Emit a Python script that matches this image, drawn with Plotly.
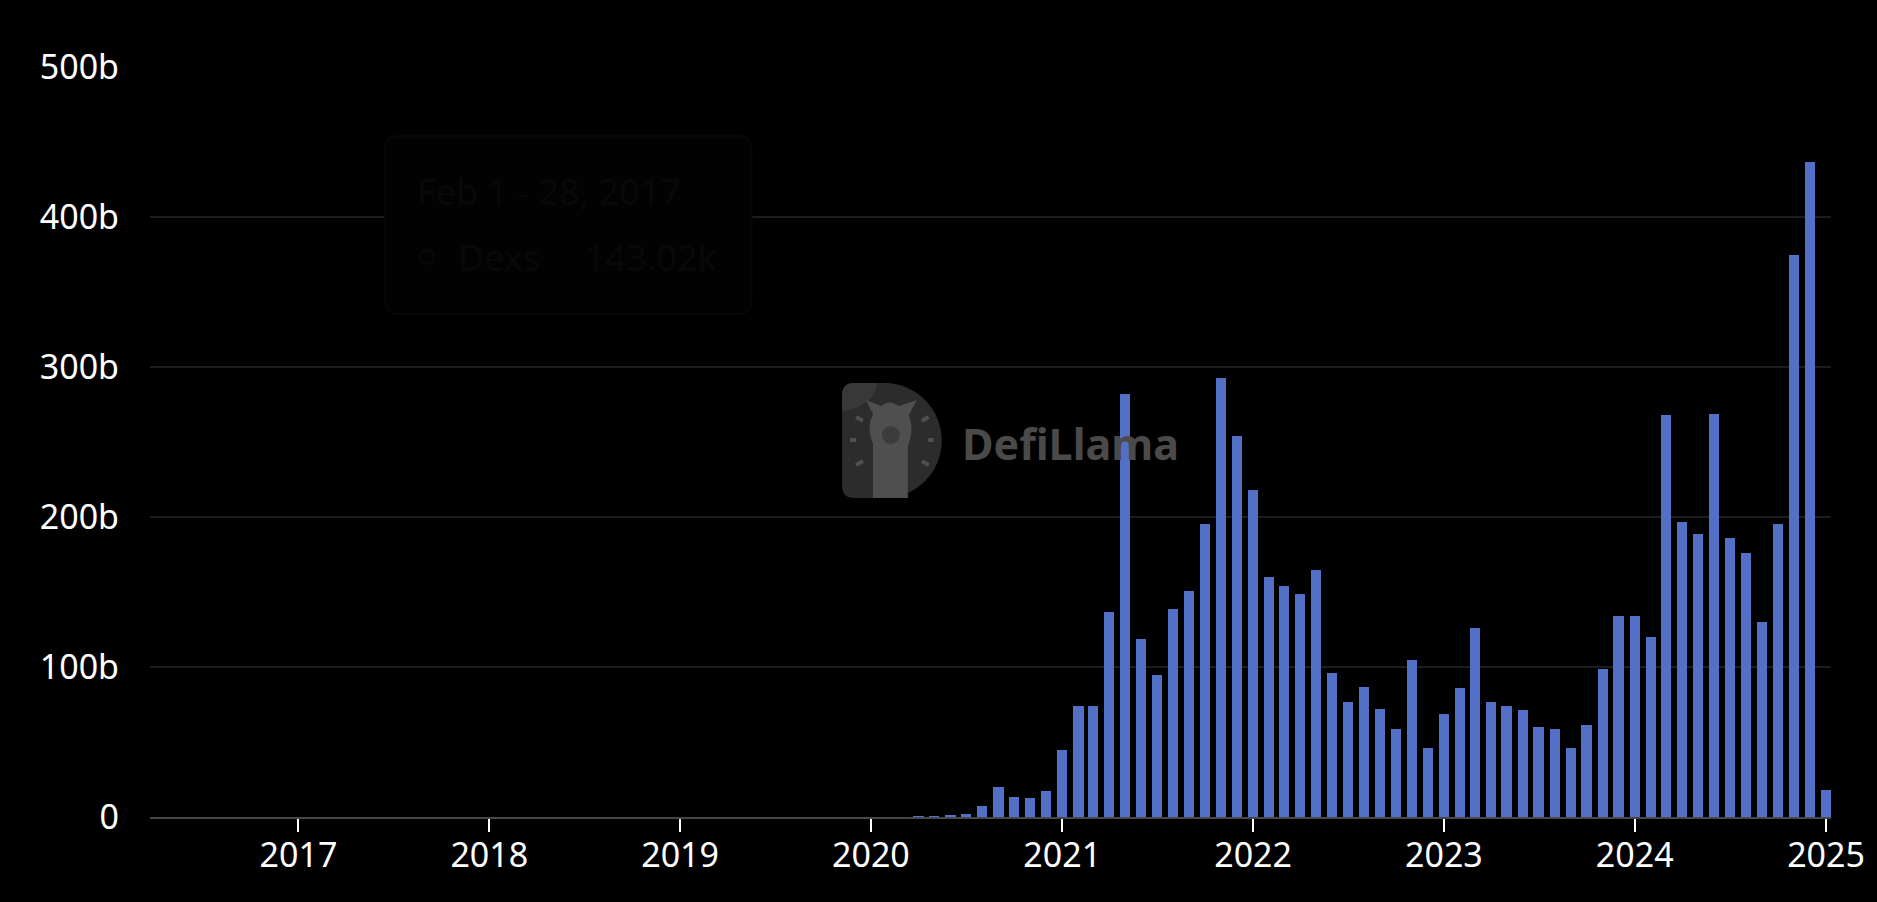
import plotly.graph_objects as go

# ---- data (values in billions USD, monthly DEX volume) ----
months = [
    "2017-02-01",
    "2020-04-01", "2020-05-01", "2020-06-01", "2020-07-01", "2020-08-01", "2020-09-01",
    "2020-10-01", "2020-11-01", "2020-12-01",
    "2021-01-01", "2021-02-01", "2021-03-01", "2021-04-01", "2021-05-01", "2021-06-01",
    "2021-07-01", "2021-08-01", "2021-09-01", "2021-10-01", "2021-11-01", "2021-12-01",
    "2022-01-01", "2022-02-01", "2022-03-01", "2022-04-01", "2022-05-01", "2022-06-01",
    "2022-07-01", "2022-08-01", "2022-09-01", "2022-10-01", "2022-11-01", "2022-12-01",
    "2023-01-01", "2023-02-01", "2023-03-01", "2023-04-01", "2023-05-01", "2023-06-01",
    "2023-07-01", "2023-08-01", "2023-09-01", "2023-10-01", "2023-11-01", "2023-12-01",
    "2024-01-01", "2024-02-01", "2024-03-01", "2024-04-01", "2024-05-01", "2024-06-01",
    "2024-07-01", "2024-08-01", "2024-09-01", "2024-10-01", "2024-11-01", "2024-12-01",
    "2025-01-01",
]
volume_b = [
    0.00014302,
    0.2, 0.4, 1.1, 2.2, 7.3, 20.0,
    13.5, 13.0, 17.3,
    45.0, 74.0, 74.0, 137.0, 282.0, 119.0,
    95.0, 139.0, 151.0, 195.5, 293.0, 254.0,
    218.0, 160.0, 154.0, 149.0, 165.0, 96.0,
    77.0, 86.7, 71.8, 59.0, 104.5, 45.8,
    68.5, 86.0, 126.0, 76.5, 74.2, 71.3,
    60.0, 58.5, 46.2, 61.5, 98.7, 134.0,
    134.0, 120.0, 267.8, 197.0, 189.0, 268.7,
    185.8, 176.0, 130.0, 195.3, 375.0, 437.0,
    18.0,
]
series_name = "Dexs"
x_tick_vals = ["2017-01-01", "2018-01-01", "2019-01-01", "2020-01-01", "2021-01-01",
               "2022-01-01", "2023-01-01", "2024-01-01", "2025-01-01"]
x_tick_text = ["2017", "2018", "2019", "2020", "2021", "2022", "2023", "2024", "2025"]
y_tick_vals = [0, 100, 200, 300, 400, 500]
y_tick_text = ["0", "100b", "200b", "300b", "400b", "500b"]
tooltip_date = "Feb 1 - 28, 2017"
tooltip_value = "143.02k"

# ---- layout geometry ----
W, H = 1877, 902
L, R, T, B = 150, 39, 67, 85
PW, PH = W - L - R, H - T - B


def px(x):
    return (x - L) / PW


def py(y):
    return (H - B - y) / PH


FONT = "Noto Sans, Open Sans, sans-serif"
BAR_COLOR = "#5470c6"
DAY_MS = 86400000

fig = go.Figure()
fig.add_trace(go.Bar(
    x=months, y=volume_b, name=series_name,
    marker=dict(color=BAR_COLOR, line=dict(width=0)),
    width=[19.6 * DAY_MS] * len(months),
    hoverinfo="skip",
))

shapes = []

# --- DefiLlama watermark logo (D shape) ---
k = 0.5523
x0, y0, y1 = 845, 383, 498
cx, r = 887.5, 57.5
cy = (y0 + y1) / 2
rc = 12
d_path = (
    f"M {px(x0 + rc)},{py(y0)} L {px(cx)},{py(y0)} "
    f"C {px(cx + k * r)},{py(y0)} {px(cx + r)},{py(cy - k * r)} {px(cx + r)},{py(cy)} "
    f"C {px(cx + r)},{py(cy + k * r)} {px(cx + k * r)},{py(y1)} {px(cx)},{py(y1)} "
    f"L {px(x0 + rc)},{py(y1)} Q {px(x0)},{py(y1)} {px(x0)},{py(y1 - rc)} "
    f"L {px(x0)},{py(y0 + rc)} Q {px(x0)},{py(y0)} {px(x0 + rc)},{py(y0)} Z"
)
shapes.append(dict(type="path", path=d_path, xref="paper", yref="paper",
                   fillcolor="#2c2c2c", line=dict(width=0), layer="below"))
# lighter top-left quadrant of the logo
tl_path = (
    f"M {px(x0 + rc)},{py(y0)} L {px(880)},{py(y0)} "
    f"Q {px(878)},{py(405)} {px(x0)},{py(412)} "
    f"L {px(x0)},{py(y0 + rc)} Q {px(x0)},{py(y0)} {px(x0 + rc)},{py(y0)} Z"
)
shapes.append(dict(type="path", path=tl_path, xref="paper", yref="paper",
                   fillcolor="#383838", line=dict(width=0), layer="below"))
# llama: neck / body / head
llama_path = (
    f"M {px(876)},{py(498)} L {px(876)},{py(444)} "
    f"Q {px(869)},{py(428)} {px(876)},{py(414)} L {px(869)},{py(400)} L {px(884)},{py(406)} "
    f"Q {px(893)},{py(399)} {px(902)},{py(406)} L {px(920)},{py(400)} L {px(912)},{py(415)} "
    f"Q {px(918)},{py(430)} {px(911)},{py(446)} L {px(911)},{py(498)} Z"
)
shapes.append(dict(type="path", path=llama_path, xref="paper", yref="paper",
                   fillcolor="#4f4f4f", line=dict(width=0), layer="below"))
# face
shapes.append(dict(type="circle", xref="paper", yref="paper",
                   x0=px(885), x1=px(903), y0=py(444), y1=py(426),
                   fillcolor="#3c3c3c", line=dict(width=0), layer="below"))
# rays around llama
for (ax0, ay0, ax1, ay1) in [(859, 417, 866, 421), (853, 440, 859, 440), (859, 465, 866, 461),
                             (925, 421, 932, 417), (931, 440, 937, 440), (925, 461, 932, 465)]:
    shapes.append(dict(type="line", xref="paper", yref="paper",
                       x0=px(ax0), y0=py(ay0), x1=px(ax1), y1=py(ay1),
                       line=dict(color="#4f4f4f", width=4), layer="below"))

# --- ghost tooltip box (nearly invisible) ---
bx0, by0, bx1, by1, br = 386, 136, 754, 314, 14
box_path = (
    f"M {px(bx0 + br)},{py(by0)} L {px(bx1 - br)},{py(by0)} Q {px(bx1)},{py(by0)} {px(bx1)},{py(by0 + br)} "
    f"L {px(bx1)},{py(by1 - br)} Q {px(bx1)},{py(by1)} {px(bx1 - br)},{py(by1)} "
    f"L {px(bx0 + br)},{py(by1)} Q {px(bx0)},{py(by1)} {px(bx0)},{py(by1 - br)} "
    f"L {px(bx0)},{py(by0 + br)} Q {px(bx0)},{py(by0)} {px(bx0 + br)},{py(by0)} Z"
)
shapes.append(dict(type="path", path=box_path, xref="paper", yref="paper",
                   fillcolor="#020202", line=dict(color="#070707", width=2), layer="above"))
shapes.append(dict(type="circle", xref="paper", yref="paper",
                   x0=px(421), x1=px(435), y0=py(264), y1=py(250),
                   fillcolor="rgba(0,0,0,0)", line=dict(color="#090909", width=2), layer="above"))

annotations = [
    dict(text="DefiLlama", xref="paper", yref="paper", x=px(963), y=py(443),
         xanchor="left", yanchor="middle", showarrow=False,
         font=dict(family="Noto Sans, Open Sans, sans-serif", size=43, color="#4a4a4a",
                   weight="bold")),
    dict(text=tooltip_date, xref="paper", yref="paper", x=px(416), y=py(192),
         xanchor="left", yanchor="middle", showarrow=False,
         font=dict(family=FONT, size=36, color="#080808")),
    dict(text=series_name, xref="paper", yref="paper", x=px(457), y=py(257),
         xanchor="left", yanchor="middle", showarrow=False,
         font=dict(family=FONT, size=36, color="#080808")),
    dict(text=tooltip_value, xref="paper", yref="paper", x=px(721), y=py(257),
         xanchor="right", yanchor="middle", showarrow=False,
         font=dict(family=FONT, size=36, color="#080808")),
]

fig.update_layout(
    width=W, height=H,
    margin=dict(l=L, r=R, t=T, b=B, pad=0),
    paper_bgcolor="#000000", plot_bgcolor="#000000",
    showlegend=False,
    bargap=0,
    font=dict(family=FONT, color="#ffffff", size=34),
    shapes=shapes,
    annotations=annotations,
    xaxis=dict(
        type="date",
        range=["2016-03-23", "2025-01-10 12:00"],
        tickvals=x_tick_vals, ticktext=x_tick_text,
        showgrid=False, zeroline=False,
        showline=True, linecolor="#474747", linewidth=2,
        ticks="outside", ticklen=13, tickwidth=2, tickcolor="#ffffff",
        tickfont=dict(family=FONT, size=34, color="#ffffff"),
        ticklabelstandoff=-6,
        fixedrange=True,
    ),
    yaxis=dict(
        range=[0, 500],
        tickvals=y_tick_vals, ticktext=y_tick_text,
        showgrid=True, gridcolor="#1c1c1c", gridwidth=2,
        zeroline=False, showline=False, ticks="",
        tickfont=dict(family=FONT, size=34, color="#ffffff"),
        ticklabelstandoff=30,
        fixedrange=True,
    ),
)

fig.write_html(
    "out.html",
    config={"displayModeBar": False},
    post_script="document.body.style.margin='0';document.body.style.background='#000';"
                "document.documentElement.style.background='#000';"
                "document.body.style.overflow='hidden';",
)
